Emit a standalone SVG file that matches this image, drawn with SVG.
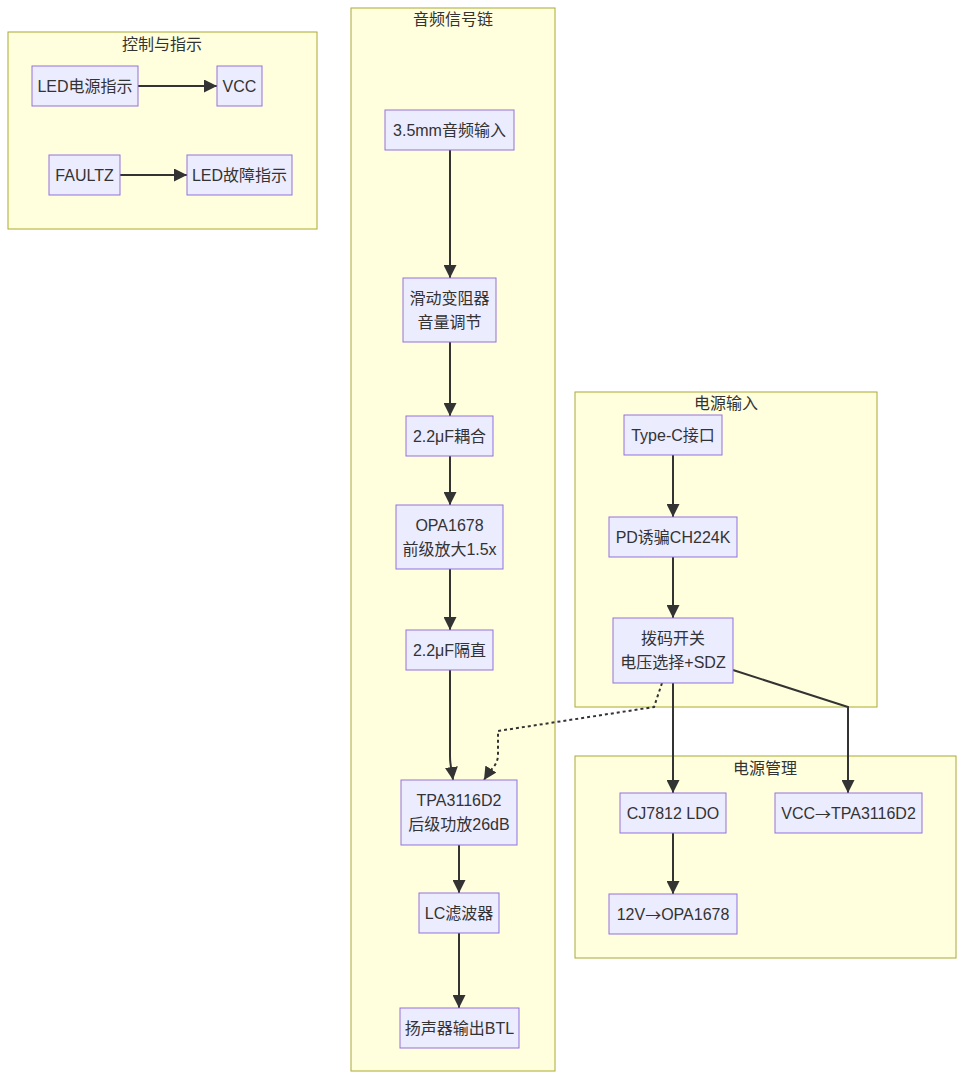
<svg xmlns="http://www.w3.org/2000/svg" width="964" height="1079" viewBox="0 0 964 1079">
<style>
.cluster{fill:#ffffde;stroke:#aaaa33;stroke-width:1}
.node rect{fill:#ECECFF;stroke:#9370DB;stroke-width:1}
text{font-family:"Liberation Sans","Noto Sans CJK SC",sans-serif;font-size:16px;fill:#333;text-anchor:middle;dominant-baseline:central}
.ar{font-family:"Noto Sans CJK SC","DejaVu Sans",sans-serif}
.edge{fill:none;stroke:#333;stroke-width:2}
.dot{stroke-dasharray:3 3}
</style>
<defs>
<marker id="arr" viewBox="0 0 10 10" refX="10" refY="5" markerUnits="userSpaceOnUse" markerWidth="13" markerHeight="13" orient="auto">
<path d="M0,0 L10,5 L0,10 z" fill="#333"/>
</marker>
</defs>
<rect width="964" height="1079" fill="#fff"/>
<g id="clusters">
<rect class="cluster" x="8" y="32" width="309" height="197"/>
<text x="162" y="44">控制与指示</text>
<rect class="cluster" x="351" y="8" width="204" height="1063"/>
<text x="453" y="19">音频信号链</text>
<rect class="cluster" x="575" y="392" width="302" height="315"/>
<text x="726" y="403">电源输入</text>
<rect class="cluster" x="575" y="756" width="381" height="202"/>
<text x="765" y="768">电源管理</text>
</g>
<g id="connectors">
<path class="edge" d="M138,86 L217,86" marker-end="url(#arr)"/>
<path class="edge" d="M120,175 L187,175" marker-end="url(#arr)"/>
<path class="edge" d="M450,150 L450,278" marker-end="url(#arr)"/>
<path class="edge" d="M450,342 L450,416" marker-end="url(#arr)"/>
<path class="edge" d="M450,456 L450,505" marker-end="url(#arr)"/>
<path class="edge" d="M450,569 L450,630" marker-end="url(#arr)"/>
<path class="edge" d="M450,670 L450,756 Q450,764 452,772 L453,780" marker-end="url(#arr)"/>
<path class="edge dot" d="M662,683 L654,707 L498,731 L498,755 Q498,764 489,772 L484,780" marker-end="url(#arr)"/>
<path class="edge" d="M459,845 L459,893" marker-end="url(#arr)"/>
<path class="edge" d="M459,933 L459,1008" marker-end="url(#arr)"/>
<path class="edge" d="M673,455 L673,517" marker-end="url(#arr)"/>
<path class="edge" d="M673,557 L673,618" marker-end="url(#arr)"/>
<path class="edge" d="M673,683 L673,793" marker-end="url(#arr)"/>
<path class="edge" d="M733,670 L848,707 L848,793" marker-end="url(#arr)"/>
<path class="edge" d="M673,833 L673,894" marker-end="url(#arr)"/>
</g>
<g id="n_led_pwr" class="node"><rect x="32" y="66" width="106" height="40"/><text x="85" y="86">LED电源指示</text></g>
<g id="n_vcc" class="node"><rect x="217" y="66" width="45" height="40"/><text x="239.5" y="86">VCC</text></g>
<g id="n_faultz" class="node"><rect x="49" y="155" width="71" height="40"/><text x="84.5" y="175">FAULTZ</text></g>
<g id="n_led_fault" class="node"><rect x="187" y="155" width="105" height="40"/><text x="239.5" y="175">LED故障指示</text></g>
<g id="n_in" class="node"><rect x="385" y="110" width="129" height="40"/><text x="449.5" y="130">3.5mm音频输入</text></g>
<g id="n_pot" class="node"><rect x="403" y="278" width="93" height="64"/><text x="449.5" y="298">滑动变阻器</text><text x="449.5" y="322">音量调节</text></g>
<g id="n_c1" class="node"><rect x="406" y="416" width="87" height="40"/><text x="449.5" y="436">2.2μF耦合</text></g>
<g id="n_opa" class="node"><rect x="396" y="505" width="107" height="64"/><text x="449.5" y="525">OPA1678</text><text x="449.5" y="549">前级放大1.5x</text></g>
<g id="n_c2" class="node"><rect x="406" y="630" width="87" height="40"/><text x="449.5" y="650">2.2μF隔直</text></g>
<g id="n_tpa" class="node"><rect x="401" y="780" width="116" height="65"/><text x="459" y="800">TPA3116D2</text><text x="459" y="824">后级功放26dB</text></g>
<g id="n_lc" class="node"><rect x="419" y="893" width="80" height="40"/><text x="459" y="913">LC滤波器</text></g>
<g id="n_spk" class="node"><rect x="400" y="1008" width="119" height="40"/><text x="459.5" y="1028">扬声器输出BTL</text></g>
<g id="n_typec" class="node"><rect x="624" y="415" width="98" height="40"/><text x="673" y="435">Type-C接口</text></g>
<g id="n_pd" class="node"><rect x="609" y="517" width="128" height="40"/><text x="673" y="537">PD诱骗CH224K</text></g>
<g id="n_dip" class="node"><rect x="613" y="618" width="120" height="65"/><text x="673" y="638">拨码开关</text><text x="673" y="662">电压选择+SDZ</text></g>
<g id="n_ldo" class="node"><rect x="620" y="793" width="106" height="40"/><text x="673" y="813">CJ7812 LDO</text></g>
<g id="n_vcctpa" class="node"><rect x="775" y="793" width="147" height="40"/><text x="848.5" y="813">VCC<tspan class="ar">→</tspan>TPA3116D2</text></g>
<g id="n_12v" class="node"><rect x="609" y="894" width="128" height="40"/><text x="673" y="914">12V<tspan class="ar">→</tspan>OPA1678</text></g>
</svg>
